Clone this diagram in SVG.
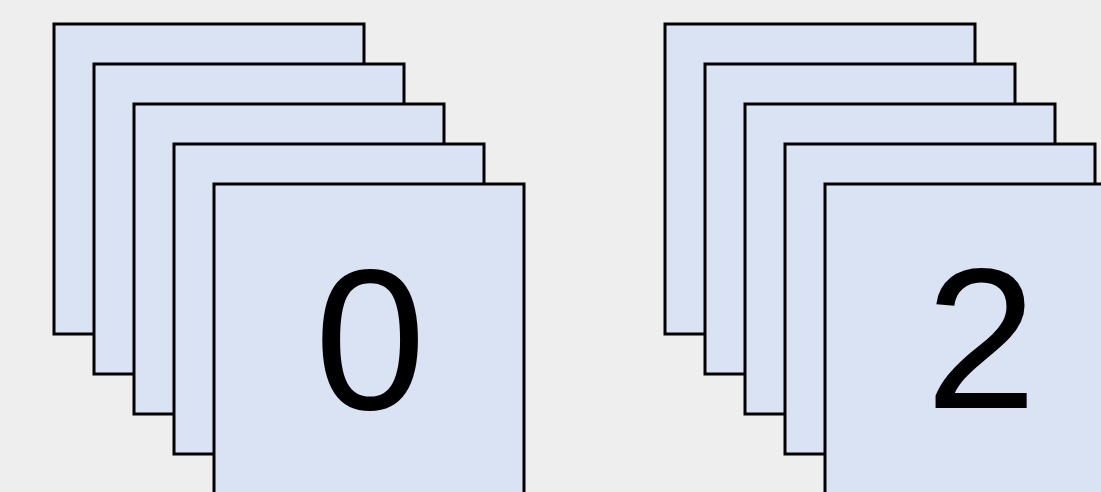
<svg xmlns="http://www.w3.org/2000/svg" width="1101" height="492" viewBox="0 0 1101 492">
<style>
.card{fill:#dae3f3;stroke:#000;stroke-width:3}
.lbl{font-family:"Liberation Sans",Arial,sans-serif;font-size:200px;fill:#000;text-anchor:middle}
</style>
<rect x="0" y="0" width="1101" height="492" fill="#eeeeee"/>
<g id="stack0">
<rect class="card" x="54" y="24" width="310" height="310"/>
<rect class="card" x="94" y="64" width="310" height="310"/>
<rect class="card" x="134" y="104" width="310" height="310"/>
<rect class="card" x="174" y="144" width="310" height="310"/>
<rect class="card" x="214" y="184" width="310" height="310"/>
<text class="lbl" x="370" y="409">0</text>
</g>
<g id="stack2">
<rect class="card" x="665" y="24" width="310" height="310"/>
<rect class="card" x="705" y="64" width="310" height="310"/>
<rect class="card" x="745" y="104" width="310" height="310"/>
<rect class="card" x="785" y="144" width="310" height="310"/>
<rect class="card" x="825" y="184" width="310" height="310"/>
<text class="lbl" x="981" y="408">2</text>
</g>
<g id="connectors"></g>
</svg>
